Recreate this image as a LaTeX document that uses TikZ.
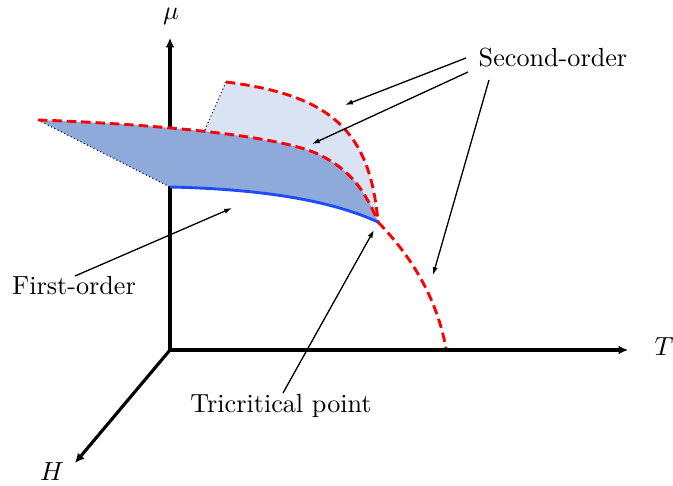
\documentclass[tikz,border=0pt]{standalone}
\usetikzlibrary{arrows.meta}
\definecolor{darkfill}{RGB}{142,170,219}
\definecolor{lightfill}{RGB}{218,227,243}
\definecolor{bluecurve}{RGB}{30,75,255}
\begin{document}
\begin{tikzpicture}[x=0.382pt,y=-0.382pt,
  axis/.style={line width=1.2pt,-{Latex[length=3.6pt,width=3.4pt]}},
  pointer/.style={line width=0.5pt,-{Latex[length=3pt,width=2pt]}},
  secondorder/.style={red,line width=1.1pt,dash pattern=on 3.6pt off 1.9pt},
  firstorder/.style={bluecurve,line width=1.1pt},
  edge/.style={line width=0.4pt,densely dotted},
  lbl/.style={inner sep=0pt}]
\useasboundingbox (0,0) rectangle (673,486);
% coordinates
\coordinate (O) at (170,350);
\coordinate (Mtop) at (170,38);
\coordinate (Tend) at (628,350);
\coordinate (Hend) at (75,463);
\coordinate (A) at (226,82);
\coordinate (B) at (204,132);
\coordinate (C) at (38,120);
\coordinate (D) at (170,187);
\coordinate (TCP) at (378,222);
\coordinate (E) at (446,348);
% axes (behind the surfaces)
\draw[axis] (O) -- (Mtop);
\draw[axis] (O) -- (Tend);
\draw[axis] (O) -- (Hend);
\node[lbl] (mu) at (171,16) {$\mu$};
\node[lbl] (T) at (664,347) {$T$};
\node[lbl] (H) at (52,472) {$H$};
% light (back) surface
\fill[lightfill] (A) .. controls (330,95) and (370,130) .. (TCP)
  .. controls (365,190) and (350,170) .. (320,155)
  .. controls (290,140) and (240,134) .. (B) -- cycle;
% dark (front) surface
\fill[darkfill] (C) .. controls (150,124) and (280,135) .. (320,155)
  .. controls (350,170) and (365,190) .. (TCP)
  .. controls (330,200) and (260,189) .. (D) -- cycle;
% edges
\draw[edge] (A) -- (B);
\draw[edge] (C) -- (D);
\draw[secondorder] (A) .. controls (330,95) and (370,130) .. (TCP);
\draw[secondorder] (C) .. controls (150,124) and (280,135) .. (320,155)
  .. controls (350,170) and (365,190) .. (TCP);
\draw[secondorder] (TCP) .. controls (405,250) and (435,290) .. (E);
\draw[firstorder] (D) .. controls (260,189) and (330,200) .. (TCP);
% labels
\node[lbl] (so) at (553,58) {Second-order};
\node[lbl] (fo) at (74,286) {First-order};
\node[lbl] (tp) at (281,406) {Tricritical point};
\coordinate (so1) at (466,58);
\coordinate (so2) at (468,72);
\coordinate (so3) at (489,80);
\coordinate (t1) at (345,105);
\coordinate (t2) at (312,144);
\coordinate (t3) at (433,275);
\coordinate (fo1) at (75,276);
\coordinate (ft) at (232,208);
\coordinate (tp1) at (283,393);
\coordinate (tt) at (374,230);
\draw[pointer] (so1) -- (t1);
\draw[pointer] (so2) -- (t2);
\draw[pointer] (so3) -- (t3);
\draw[pointer] (fo1) -- (ft);
\draw[pointer] (tp1) -- (tt);
\end{tikzpicture}
\end{document}
